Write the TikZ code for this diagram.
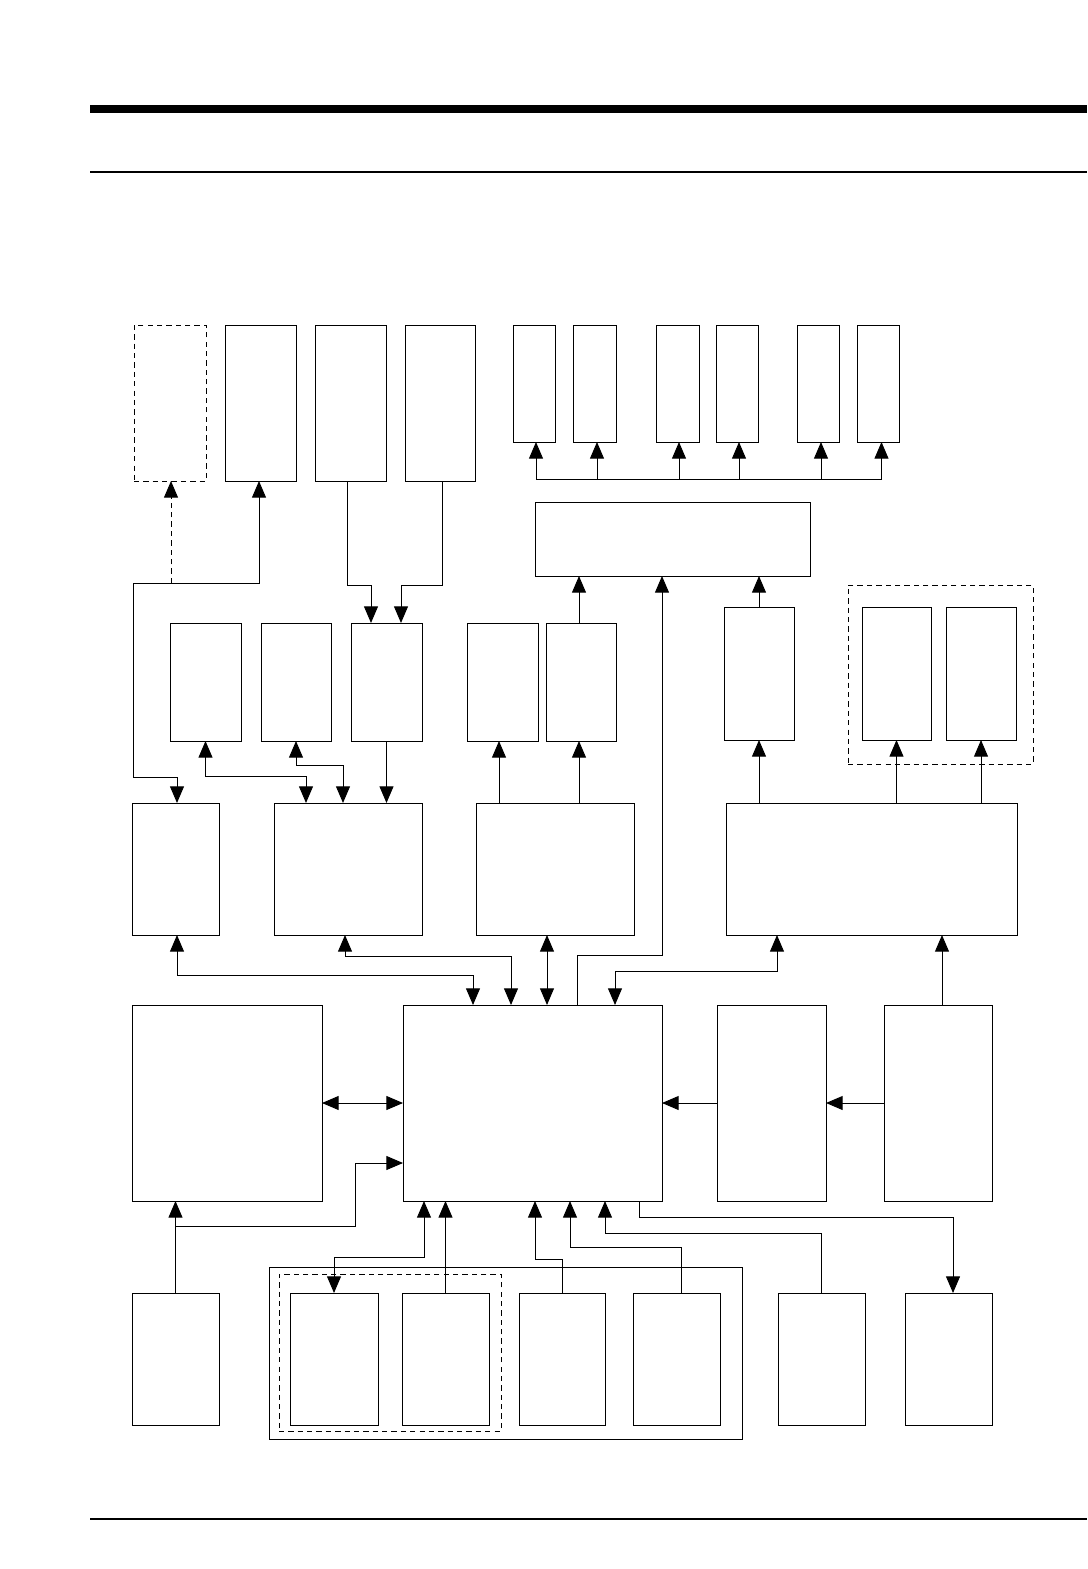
\documentclass[tikz,border=0pt]{standalone}
\usepackage{tikz}
\usetikzlibrary{calc, fit, arrows.meta}
\tikzset{
  blk/.style={draw, line width=0.8pt, inner sep=0pt, outer sep=0pt},
  dblk/.style={blk, dash pattern=on 4.5pt off 3.5pt},
  conn/.style={line width=0.8pt},
  arr/.style={conn, -{Triangle[length=0.5cm, width=0.42cm]}},
  dbl/.style={conn, {Triangle[length=0.5cm, width=0.42cm]}-{Triangle[length=0.5cm, width=0.42cm]}},
}
\newcommand{\blk}[6][blk]{%
  % #1=style, #2=name, #3=x1, #4=y1, #5=x2, #6=y2 (pixel grid)
  \node[#1, fit={(#3,#4) (#5,#6)}] (#2) {};
}

\begin{document}
\begin{tikzpicture}[x=0.03cm, y=-0.03cm]
\useasboundingbox (0,0) rectangle (1087,1569);

% Page rules
\fill (90,105) rectangle (1087,113);
\draw[line width=1pt] (90,172) -- (1087,172);
\draw[line width=1pt] (90,1519) -- (1087,1519);

% Top row
\blk[dblk]{d1}{134}{325}{206}{481}
\blk{t1}{225}{325}{296}{481}
\blk{t2}{315}{325}{386}{481}
\blk{t3}{405}{325}{475}{481}
\blk{s1}{513}{325}{555}{442}
\blk{s2}{573}{325}{616}{442}
\blk{s3}{656}{325}{699}{442}
\blk{s4}{716}{325}{758}{442}
\blk{s5}{797}{325}{839}{442}
\blk{s6}{857}{325}{899}{442}
\blk{w}{535}{502}{810}{576}

% Second row
\blk{c1}{170}{623}{241}{741}
\blk{c2}{261}{623}{331}{741}
\blk{c3}{351}{623}{422}{741}
\blk{c4}{467}{623}{538}{741}
\blk{c5}{546}{623}{616}{741}
\blk{r1}{724}{607}{794}{740}
\blk{g1}{862}{607}{931}{740}
\blk{g2}{946}{607}{1016}{740}
\blk[dblk]{grp}{848}{585}{1033}{764}

% Third row
\blk{e1}{132}{803}{219}{935}
\blk{e2}{274}{803}{422}{935}
\blk{e3}{476}{803}{634}{935}
\blk{e4}{726}{803}{1017}{935}

% Fourth row
\blk{l}{132}{1005}{322}{1201}
\blk{m}{403}{1005}{662}{1201}
\blk{p1}{717}{1005}{826}{1201}
\blk{p2}{884}{1005}{992}{1201}

% Bottom row
\blk{f1}{132}{1293}{219}{1425}
\blk{outer}{269}{1267}{742}{1439}
\blk[dblk]{inner}{279}{1274}{501}{1431}
\blk{h1}{290}{1293}{378}{1425}
\blk{h2}{402}{1293}{489}{1425}
\blk{h3}{519}{1293}{605}{1425}
\blk{h4}{633}{1293}{720}{1425}
\blk{k1}{778}{1293}{865}{1425}
\blk{k2}{905}{1293}{992}{1425}

% Bus to the small boxes
\coordinate (bus) at (0,479);
\draw[conn] ($(s1.south |- bus)+(2,0)$) -- ($(s6.south |- bus)+(3.5,0)$);
\foreach \s/\dx in {s1/2,s2/2.5,s3/1.5,s4/2,s5/3,s6/3.5}
  \draw[arr] ($(\s.south |- bus)+(\dx,0)$) -- ($(\s.south)+(\dx,0)$);

% Top row to second row
\draw[arr] ($(t2.south)+(-3.5,0)$) |- ($(c3.north)+(-15.5,-38)$) -- ($(c3.north)+(-15.5,0)$);
\draw[arr] ($(t3.south)+(2,0)$) |- ($(c3.north)+(14.5,-38)$) -- ($(c3.north)+(14.5,0)$);
\draw[dbl] ($(t1.south)+(-1.5,0)$) -- ++(0,102) -| ($(e1.north)+(-42.5,-26)$) -| ($(e1.north)+(1.5,0)$);
\draw[arr, dash pattern=on 4.5pt off 3.5pt] ($(d1.south)+(1,102)$) -- ($(d1.south)+(1,0)$);

% Second row to third row
\draw[dbl] (c1.south) |- ($(e2.north)+(-42,-27)$) -- ($(e2.north)+(-42,0)$);
\draw[dbl] (c2.south) |- ($(e2.north)+(-5,-38)$) -- ($(e2.north)+(-5,0)$);
\draw[arr] (c3.south) -- (c3.south |- e2.north);
\draw[arr] ($(c4.south |- e3.north)+(-3.5,0)$) -- ($(c4.south)+(-3.5,0)$);
\draw[arr] ($(c5.south |- e3.north)+(-2,0)$) -- ($(c5.south)+(-2,0)$);
\draw[arr] ($(c5.north)+(-2,0)$) -- ($(c5.north |- w.south)+(-2,0)$);
\draw[arr] (r1.north) -- (r1.north |- w.south);
\draw[arr] (r1.south |- e4.north) -- (r1.south);
\draw[arr] (g1.south |- e4.north) -- (g1.south);
\draw[arr] (g2.south |- e4.north) -- (g2.south);

% Main block links
\draw[arr] ($(m.north)+(44.5,0)$) |- ($(w.south)+(-10.5,379)$) -- ($(w.south)+(-10.5,0)$);
\draw[dbl] ($(e1.south)+(1.5,0)$) |- ($(m.north)+(-59.5,-30)$) -- ($(m.north)+(-59.5,0)$);
\draw[dbl] ($(e2.south)+(-3,0)$) |- ($(m.north)+(-21.5,-49)$) -- ($(m.north)+(-21.5,0)$);
\draw[dbl] ($(m.north)+(14.5,0)$) -- ($(e3.south)+(-8,0)$);
\draw[dbl] ($(e4.south)+(-94.5,0)$) |- ($(m.north)+(82.5,-34)$) -- ($(m.north)+(82.5,0)$);
\draw[arr] ($(p2.north)+(4,0)$) -- ($(p2.north |- e4.south)+(4,0)$);
\draw[dbl] (l.east) -- (m.west);
\draw[arr] (p1.west) -- (m.east);
\draw[arr] (p2.west) -- (p1.east);

% Bottom row links
\draw[arr] (f1.north) -- (f1.north |- l.south);
\draw[arr] ($(f1.north)+(0,-67)$) -| ($(m.west)+(-48,60)$) -- ($(m.west)+(0,60)$);
\draw[dbl] ($(m.south)+(-108.5,0)$) |- ($(h1.north)+(0,-36)$) -- (h1.north);
\draw[arr] (h2.north) -- (h2.north |- m.south);
\draw[arr] (h3.north) |- ($(m.south)+(2.5,58)$) -- ($(m.south)+(2.5,0)$);
\draw[arr] ($(h4.north)+(4.5,0)$) |- ($(m.south)+(37.5,46)$) -- ($(m.south)+(37.5,0)$);
\draw[arr] (k1.north) |- ($(m.south)+(72.5,32)$) -- ($(m.south)+(72.5,0)$);
\draw[arr] ($(m.south)+(106.5,0)$) |- ($(k2.north)+(4.5,-76)$) -- ($(k2.north)+(4.5,0)$);

\end{tikzpicture}
\end{document}
